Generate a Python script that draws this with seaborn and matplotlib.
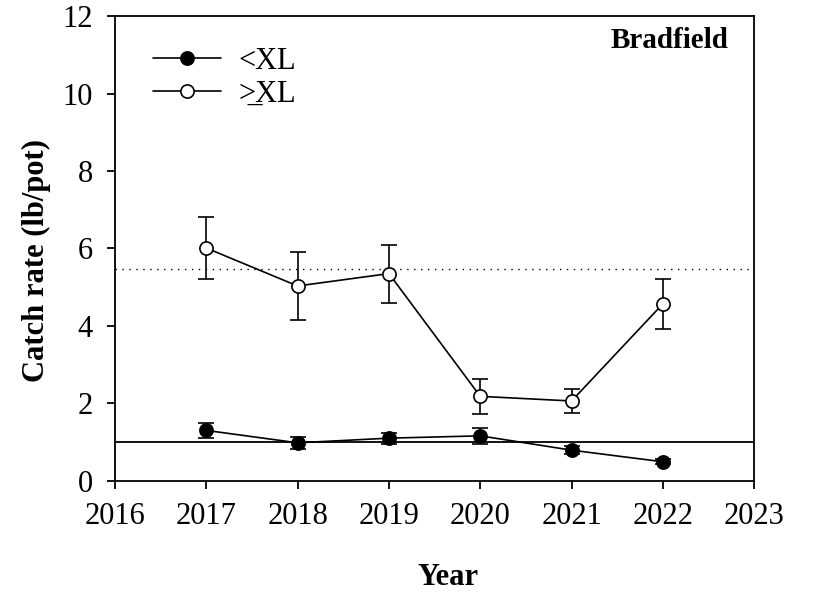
import numpy as np
import pandas as pd
import seaborn as sns
import matplotlib.pyplot as plt

sns.set_style("ticks")
plt.rcParams['font.family'] = ['Liberation Serif', 'DejaVu Serif']
plt.rcParams['text.color'] = 'black'
plt.rcParams['axes.labelcolor'] = 'black'
plt.rcParams['xtick.color'] = 'black'
plt.rcParams['ytick.color'] = 'black'

# Catch rate data (lb/pot)
years = [2017, 2018, 2019, 2020, 2021, 2022]
small_rate = [1.30, 0.98, 1.10, 1.16, 0.79, 0.49]
small_se = [0.19, 0.15, 0.14, 0.20, 0.10, 0.06]
large_rate = [6.01, 5.03, 5.35, 2.18, 2.06, 4.57]
large_se = [0.79, 0.87, 0.75, 0.46, 0.32, 0.65]
small_ref = 0.99
large_ref = 5.46

df = pd.DataFrame({
    'Year': years * 2,
    'rate': small_rate + large_rate,
    'se': small_se + large_se,
    'group': ['<XL'] * len(years) + ['>=XL'] * len(years),
})

fig, ax = plt.subplots(figsize=(8.27, 5.95), dpi=100)
fig.subplots_adjust(left=0.139, right=0.912, top=0.973, bottom=0.192)

# reference lines
ax.axhline(small_ref, color='black', lw=1.3, zorder=1)
ax.axhline(large_ref, color='black', lw=1.0, ls=(0, (1, 4)), zorder=1)

for g in ['<XL', '>=XL']:
    sub = df[df['group'] == g]
    ax.errorbar(sub['Year'], sub['rate'], yerr=sub['se'], fmt='none',
                ecolor='black', elinewidth=1.2, capsize=6, capthick=1.2, zorder=2)

sns.lineplot(data=df[df['group'] == '<XL'], x='Year', y='rate', ax=ax,
             color='black', lw=1.2, marker='o', markersize=9.5,
             markerfacecolor='black', markeredgecolor='black', markeredgewidth=1.2,
             label='<XL', zorder=3)
sns.lineplot(data=df[df['group'] == '>=XL'], x='Year', y='rate', ax=ax,
             color='black', lw=1.2, marker='o', markersize=9.5,
             markerfacecolor='white', markeredgecolor='black', markeredgewidth=1.2,
             label='>\u0332XL', zorder=3)

ax.set_xlim(2016, 2023)
ax.set_ylim(0, 12)
ax.set_xticks(range(2016, 2024))
ax.set_yticks(range(0, 13, 2))
ax.tick_params(direction='out', length=6, width=1.3, labelsize=22, color='black')
ax.tick_params(axis='x', pad=9)
ax.tick_params(axis='y', pad=10)
for s in ax.spines.values():
    s.set_linewidth(1.3)
    s.set_color('black')

ax.set_xlabel('Year', fontsize=22, fontweight='bold')
ax.xaxis.set_label_coords(0.521, -0.178)
ax.set_ylabel('Catch rate (lb/pot)', fontsize=22, fontweight='bold')
ax.yaxis.set_label_coords(-0.10, 0.475)
ax.text(0.959, 0.948, 'Bradfield', transform=ax.transAxes, ha='right', va='center',
        fontsize=21, fontweight='bold')

ax.legend(loc='upper left', frameon=False, fontsize=22, handlelength=2.2,
          handletextpad=0.6, labelspacing=0.12, bbox_to_anchor=(0.041, 0.96), borderaxespad=0)

plt.savefig('out.png', dpi=100)
plt.close()
